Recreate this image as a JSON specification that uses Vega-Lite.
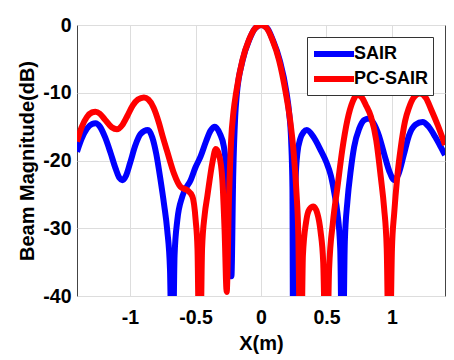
{
  "$schema": "https://vega.github.io/schema/vega-lite/v6.json",
  "autosize": {"type": "none"},
  "padding": {"left": 77, "top": 25, "right": 9, "bottom": 64},
  "width": 368,
  "height": 271,
  "background": "white",
  "config": {
    "view": {"stroke": "#444444", "strokeWidth": 1},
    "axis": {
      "labelFont": "Liberation Sans", "labelFontWeight": "bold", "labelFontSize": 19.5, "labelColor": "black",
      "titleFont": "Liberation Sans", "titleFontWeight": "bold", "titleFontSize": 20, "titleColor": "black",
      "grid": true, "gridColor": "#dddddd", "gridWidth": 1, "ticks": false, "domain": false
    },
    "legend": {
      "labelFont": "Liberation Sans", "labelFontWeight": "bold", "labelFontSize": 18, "labelColor": "black"
    }
  },
  "datasets": {
    "curves": [
      {"s":"SAIR","x":-1.405,"y":-18.7},{"s":"SAIR","x":-1.37,"y":-16.8},{"s":"SAIR","x":-1.33,"y":-15.3},{"s":"SAIR","x":-1.29,"y":-14.6},{"s":"SAIR","x":-1.264,"y":-14.5},{"s":"SAIR","x":-1.23,"y":-15.0},{"s":"SAIR","x":-1.19,"y":-16.6},{"s":"SAIR","x":-1.15,"y":-18.8},{"s":"SAIR","x":-1.11,"y":-21.2},{"s":"SAIR","x":-1.08,"y":-22.6},{"s":"SAIR","x":-1.06,"y":-22.9},{"s":"SAIR","x":-1.03,"y":-22.2},{"s":"SAIR","x":-1.0,"y":-20.4},{"s":"SAIR","x":-0.96,"y":-17.8},{"s":"SAIR","x":-0.92,"y":-16.1},{"s":"SAIR","x":-0.864,"y":-15.5},{"s":"SAIR","x":-0.83,"y":-16.6},{"s":"SAIR","x":-0.8,"y":-19.0},{"s":"SAIR","x":-0.767,"y":-22.9},{"s":"SAIR","x":-0.74,"y":-26.5},{"s":"SAIR","x":-0.716,"y":-30.3},{"s":"SAIR","x":-0.695,"y":-36},{"s":"SAIR","x":-0.677,"y":-55},{"s":"SAIR","x":-0.66,"y":-34},{"s":"SAIR","x":-0.639,"y":-28.8},{"s":"SAIR","x":-0.601,"y":-25.3},{"s":"SAIR","x":-0.537,"y":-22.9},{"s":"SAIR","x":-0.5,"y":-21.0},{"s":"SAIR","x":-0.461,"y":-19.4},{"s":"SAIR","x":-0.42,"y":-17.2},{"s":"SAIR","x":-0.385,"y":-15.6},{"s":"SAIR","x":-0.352,"y":-15.0},{"s":"SAIR","x":-0.315,"y":-16.0},{"s":"SAIR","x":-0.283,"y":-18},{"s":"SAIR","x":-0.257,"y":-22.9},{"s":"SAIR","x":-0.24,"y":-28},{"s":"SAIR","x":-0.226,"y":-37.1},{"s":"SAIR","x":-0.212,"y":-22},{"s":"SAIR","x":-0.197,"y":-13.5},{"s":"SAIR","x":-0.185,"y":-10.3},{"s":"SAIR","x":-0.14,"y":-5.2},{"s":"SAIR","x":-0.09,"y":-2.2},{"s":"SAIR","x":-0.045,"y":-0.5},{"s":"SAIR","x":0.005,"y":0},{"s":"SAIR","x":0.05,"y":-0.55},{"s":"SAIR","x":0.09,"y":-2.2},{"s":"SAIR","x":0.143,"y":-5.2},{"s":"SAIR","x":0.195,"y":-10},{"s":"SAIR","x":0.215,"y":-13},{"s":"SAIR","x":0.23,"y":-17},{"s":"SAIR","x":0.24,"y":-24},{"s":"SAIR","x":0.246,"y":-55},{"s":"SAIR","x":0.255,"y":-30},{"s":"SAIR","x":0.265,"y":-22.5},{"s":"SAIR","x":0.278,"y":-18.9},{"s":"SAIR","x":0.3,"y":-16.8},{"s":"SAIR","x":0.325,"y":-15.8},{"s":"SAIR","x":0.35,"y":-15.5},{"s":"SAIR","x":0.4,"y":-16.5},{"s":"SAIR","x":0.456,"y":-18.5},{"s":"SAIR","x":0.5,"y":-20.3},{"s":"SAIR","x":0.533,"y":-22.2},{"s":"SAIR","x":0.56,"y":-24.8},{"s":"SAIR","x":0.584,"y":-27.8},{"s":"SAIR","x":0.605,"y":-33},{"s":"SAIR","x":0.622,"y":-55},{"s":"SAIR","x":0.64,"y":-32},{"s":"SAIR","x":0.66,"y":-26},{"s":"SAIR","x":0.685,"y":-21.5},{"s":"SAIR","x":0.711,"y":-18},{"s":"SAIR","x":0.75,"y":-15.3},{"s":"SAIR","x":0.79,"y":-14.0},{"s":"SAIR","x":0.826,"y":-13.8},{"s":"SAIR","x":0.86,"y":-14.5},{"s":"SAIR","x":0.9,"y":-16.3},{"s":"SAIR","x":0.94,"y":-19.0},{"s":"SAIR","x":0.98,"y":-21.6},{"s":"SAIR","x":1.018,"y":-22.9},{"s":"SAIR","x":1.05,"y":-22.0},{"s":"SAIR","x":1.09,"y":-19.2},{"s":"SAIR","x":1.13,"y":-16.3},{"s":"SAIR","x":1.18,"y":-14.7},{"s":"SAIR","x":1.234,"y":-14.3},{"s":"SAIR","x":1.28,"y":-15.0},{"s":"SAIR","x":1.33,"y":-16.5},{"s":"SAIR","x":1.37,"y":-17.9},{"s":"SAIR","x":1.405,"y":-19.2},
      {"s":"PC-SAIR","x":-1.405,"y":-17.2},{"s":"PC-SAIR","x":-1.37,"y":-15.1},{"s":"PC-SAIR","x":-1.33,"y":-13.6},{"s":"PC-SAIR","x":-1.29,"y":-12.9},{"s":"PC-SAIR","x":-1.264,"y":-12.8},{"s":"PC-SAIR","x":-1.23,"y":-13.1},{"s":"PC-SAIR","x":-1.19,"y":-14.0},{"s":"PC-SAIR","x":-1.14,"y":-15.1},{"s":"PC-SAIR","x":-1.1,"y":-15.4},{"s":"PC-SAIR","x":-1.06,"y":-14.8},{"s":"PC-SAIR","x":-1.02,"y":-13.4},{"s":"PC-SAIR","x":-0.98,"y":-11.9},{"s":"PC-SAIR","x":-0.94,"y":-11.0},{"s":"PC-SAIR","x":-0.894,"y":-10.7},{"s":"PC-SAIR","x":-0.86,"y":-11.0},{"s":"PC-SAIR","x":-0.82,"y":-12.2},{"s":"PC-SAIR","x":-0.78,"y":-14.4},{"s":"PC-SAIR","x":-0.75,"y":-16.5},{"s":"PC-SAIR","x":-0.716,"y":-18.7},{"s":"PC-SAIR","x":-0.665,"y":-21.9},{"s":"PC-SAIR","x":-0.614,"y":-23.9},{"s":"PC-SAIR","x":-0.563,"y":-24.4},{"s":"PC-SAIR","x":-0.524,"y":-25.3},{"s":"PC-SAIR","x":-0.499,"y":-28.8},{"s":"PC-SAIR","x":-0.485,"y":-33},{"s":"PC-SAIR","x":-0.468,"y":-55},{"s":"PC-SAIR","x":-0.45,"y":-33},{"s":"PC-SAIR","x":-0.43,"y":-28},{"s":"PC-SAIR","x":-0.41,"y":-25.3},{"s":"PC-SAIR","x":-0.372,"y":-20.4},{"s":"PC-SAIR","x":-0.345,"y":-18.3},{"s":"PC-SAIR","x":-0.32,"y":-19.2},{"s":"PC-SAIR","x":-0.295,"y":-22.9},{"s":"PC-SAIR","x":-0.278,"y":-30.3},{"s":"PC-SAIR","x":-0.262,"y":-39.4},{"s":"PC-SAIR","x":-0.245,"y":-26},{"s":"PC-SAIR","x":-0.228,"y":-17},{"s":"PC-SAIR","x":-0.21,"y":-12.8},{"s":"PC-SAIR","x":-0.19,"y":-10},{"s":"PC-SAIR","x":-0.142,"y":-5.2},{"s":"PC-SAIR","x":-0.092,"y":-2.2},{"s":"PC-SAIR","x":-0.045,"y":-0.5},{"s":"PC-SAIR","x":0,"y":0},{"s":"PC-SAIR","x":0.045,"y":-0.5},{"s":"PC-SAIR","x":0.085,"y":-2.1},{"s":"PC-SAIR","x":0.138,"y":-5.2},{"s":"PC-SAIR","x":0.189,"y":-10},{"s":"PC-SAIR","x":0.222,"y":-14},{"s":"PC-SAIR","x":0.25,"y":-19},{"s":"PC-SAIR","x":0.27,"y":-24.5},{"s":"PC-SAIR","x":0.285,"y":-31},{"s":"PC-SAIR","x":0.303,"y":-55},{"s":"PC-SAIR","x":0.32,"y":-34},{"s":"PC-SAIR","x":0.345,"y":-29},{"s":"PC-SAIR","x":0.37,"y":-27.2},{"s":"PC-SAIR","x":0.4,"y":-26.8},{"s":"PC-SAIR","x":0.43,"y":-27.8},{"s":"PC-SAIR","x":0.455,"y":-30.5},{"s":"PC-SAIR","x":0.475,"y":-35},{"s":"PC-SAIR","x":0.5,"y":-55},{"s":"PC-SAIR","x":0.52,"y":-36},{"s":"PC-SAIR","x":0.55,"y":-29},{"s":"PC-SAIR","x":0.584,"y":-23.9},{"s":"PC-SAIR","x":0.62,"y":-18.5},{"s":"PC-SAIR","x":0.66,"y":-14.0},{"s":"PC-SAIR","x":0.7,"y":-11.3},{"s":"PC-SAIR","x":0.737,"y":-10.3},{"s":"PC-SAIR","x":0.77,"y":-10.7},{"s":"PC-SAIR","x":0.8,"y":-11.8},{"s":"PC-SAIR","x":0.839,"y":-13.5},{"s":"PC-SAIR","x":0.88,"y":-17},{"s":"PC-SAIR","x":0.915,"y":-22.5},{"s":"PC-SAIR","x":0.94,"y":-27},{"s":"PC-SAIR","x":0.96,"y":-33},{"s":"PC-SAIR","x":0.979,"y":-55},{"s":"PC-SAIR","x":1.0,"y":-33},{"s":"PC-SAIR","x":1.017,"y":-27.8},{"s":"PC-SAIR","x":1.04,"y":-22.5},{"s":"PC-SAIR","x":1.068,"y":-18},{"s":"PC-SAIR","x":1.1,"y":-14.2},{"s":"PC-SAIR","x":1.13,"y":-12.2},{"s":"PC-SAIR","x":1.17,"y":-10.6},{"s":"PC-SAIR","x":1.213,"y":-10.1},{"s":"PC-SAIR","x":1.26,"y":-10.8},{"s":"PC-SAIR","x":1.3,"y":-12.5},{"s":"PC-SAIR","x":1.35,"y":-14.8},{"s":"PC-SAIR","x":1.405,"y":-17.7}
    ]
  },
  "data": {"name": "curves"},
  "encoding": {
    "x": {"field": "x", "type": "quantitative", "scale": {"domain": [-1.405, 1.405], "nice": false, "zero": false},
      "axis": {"values": [-1, -0.5, 0, 0.5, 1], "labelExpr": "datum.value + ''", "title": "X(m)", "labelPadding": 12, "titlePadding": 7}},
    "y": {"field": "y", "type": "quantitative", "scale": {"domain": [-40, 0], "nice": false},
      "axis": {"values": [0, -10, -20, -30, -40], "labelExpr": "datum.value + ''", "title": "Beam Magnitude(dB)", "labelPadding": 6, "titlePadding": 5}},
    "color": {"field": "s", "type": "nominal", "scale": {"domain": ["SAIR", "PC-SAIR"], "range": ["#0000ff", "#ff0000"]},
      "legend": {"title": null, "orient": "none", "legendX": 230, "legendY": 12, "symbolType": "M-1,0H3", "symbolSize": 400, "symbolStrokeWidth": 6,
        "strokeColor": "#333333", "fillColor": "white", "padding": 4, "labelOffset": 17, "rowPadding": -3}}
  },
  "layer": [
    {"transform": [{"filter": "datum.s === 'SAIR'"}], "mark": {"type": "line", "interpolate": "monotone", "strokeWidth": 6, "clip": true}},
    {"transform": [{"filter": "datum.s === 'PC-SAIR'"}], "mark": {"type": "line", "interpolate": "monotone", "strokeWidth": 6, "clip": true}}
  ]
}
